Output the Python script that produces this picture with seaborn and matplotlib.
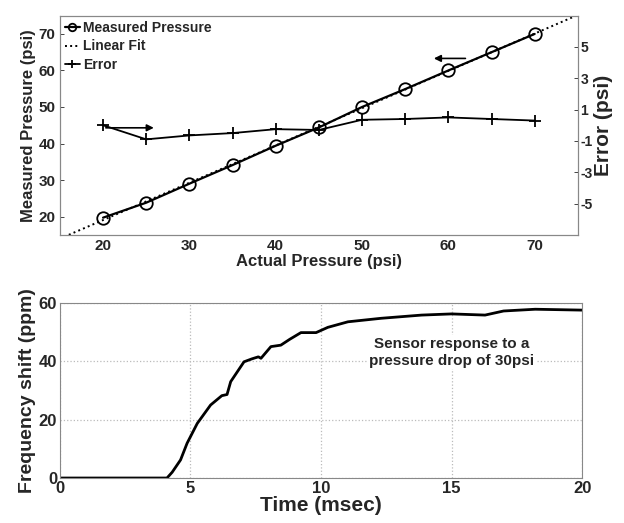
import numpy as np
import pandas as pd
import matplotlib
matplotlib.use("Agg")
import matplotlib.pyplot as plt
import seaborn as sns

# top panel: pressure sensor calibration
actual_psi = [20, 25, 30, 35, 40, 45, 50, 55, 60, 65, 70]
measured_psi = [19.7, 23.8, 29.0, 34.1, 39.4, 44.4, 50.0, 54.9, 60.0, 65.0, 70.0]
error_psi = [0.0, -0.9, -0.65, -0.5, -0.25, -0.3, 0.35, 0.4, 0.5, 0.4, 0.3]

# bottom panel: step response
time_ms = [0, 1, 2, 3, 4.1, 4.3, 4.62, 4.87, 5.26, 5.77, 6.2, 6.4, 6.54, 7.05,
           7.35, 7.6, 7.7, 8.08, 8.46, 8.8, 9.23, 9.81, 10.26, 11.03, 12.3,
           13.85, 15.0, 16.28, 16.99, 18.2, 20]
shift_ppm = [0, 0, 0, 0, 0, 2, 6.2, 11.9, 18.7, 25, 28.2, 28.6, 33, 39.8,
             40.8, 41.5, 41.0, 45, 45.5, 47.5, 49.8, 49.8, 51.6, 53.5, 54.7,
             55.8, 56.2, 55.8, 57.2, 57.8, 57.5]

sns.set_theme(style="white")
plt.rcParams['font.family'] = ['Liberation Sans Narrow', 'Liberation Sans', 'DejaVu Sans']
plt.rcParams['font.weight'] = 'bold'
plt.rcParams['axes.labelweight'] = 'bold'
plt.rcParams['axes.unicode_minus'] = False

cal = pd.DataFrame({'actual': actual_psi, 'measured': measured_psi, 'error': error_psi})
resp = pd.DataFrame({'time': time_ms, 'shift': shift_ppm})

fig = plt.figure(figsize=(6.24, 5.23), dpi=100)
ax1 = fig.add_axes([0.096, 0.551, 0.830, 0.419])
ax2 = ax1.twinx()

# linear fit of measured vs actual
m, b = np.polyfit(cal['actual'], cal['measured'], 1)

sns.lineplot(data=cal, x='actual', y='measured', ax=ax1, color='black', lw=1.6,
             marker='o', markersize=9, markerfacecolor='none', markeredgecolor='black',
             markeredgewidth=1.3, label='Measured Pressure', legend=False)
ax1.axline((0, b), slope=m, color='black', ls=':', lw=1.4, label='Linear Fit')
sns.lineplot(data=cal, x='actual', y='error', ax=ax2, color='black', lw=1.3,
             marker='+', markersize=9, markeredgewidth=1.3, markeredgecolor='black',
             label='Error', legend=False)

ax1.set_xlim(15, 75)
ax1.set_ylim(15, 75)
ax2.set_ylim(-7, 7)
ax1.set_xticks([20, 30, 40, 50, 60, 70])
ax1.set_yticks([20, 30, 40, 50, 60, 70])
ax2.set_yticks([-5, -3, -1, 1, 3, 5])

ax1.set_xlabel('Actual Pressure (psi)', fontsize=12, labelpad=1)
ax1.set_ylabel('Measured Pressure (psi)', fontsize=12, labelpad=2)
ax2.set_ylabel('Error (psi)', fontsize=15, labelpad=1)

for a in (ax1, ax2):
    a.tick_params(direction='in', length=3, width=0.6, labelsize=11, pad=3)
    for sp in a.spines.values():
        sp.set_color('#888888')
        sp.set_linewidth(0.8)
ax2.tick_params(labelsize=10, pad=2)
for t in ax1.get_xticklabels() + ax1.get_yticklabels() + ax2.get_yticklabels():
    t.set_fontweight('bold')

h1, l1 = ax1.get_legend_handles_labels()
h2, l2 = ax2.get_legend_handles_labels()
leg = ax1.legend(h1 + h2, l1 + l2, loc='upper left', frameon=False, fontsize=10,
                 handlelength=1.1, handletextpad=0.2, labelspacing=0.35,
                 borderaxespad=0.1, borderpad=0.25, markerscale=0.6)
for t in leg.get_texts():
    t.set_fontweight('bold')

# arrows pointing to the matching axis
ax1.annotate('', xy=(26.2, 44.3), xytext=(20, 44.3),
             arrowprops=dict(arrowstyle='-|>', color='black', lw=1.2, mutation_scale=10))
ax1.annotate('', xy=(58.0, 63.3), xytext=(62.3, 63.3),
             arrowprops=dict(arrowstyle='-|>', color='black', lw=1.2, mutation_scale=10))

# bottom panel
ax3 = fig.add_axes([0.096, 0.086, 0.837, 0.335])
sns.lineplot(data=resp, x='time', y='shift', ax=ax3, color='black', lw=2)
ax3.set_xlim(0, 20)
ax3.set_ylim(0, 60)
ax3.set_xticks([0, 5, 10, 15, 20])
ax3.set_yticks([0, 20, 40, 60])
ax3.grid(True, color='#bbbbbb', ls=':', lw=0.9)
ax3.set_axisbelow(True)
ax3.set_xlabel('Time (msec)', fontsize=15, labelpad=0)
ax3.set_ylabel('Frequency shift (ppm)', fontsize=14, labelpad=2)
ax3.tick_params(direction='in', length=3, width=0.6, labelsize=12, pad=2)
for t in ax3.get_xticklabels() + ax3.get_yticklabels():
    t.set_fontweight('bold')
for sp in ax3.spines.values():
    sp.set_color('#888888')
    sp.set_linewidth(0.8)
ax3.text(15.0, 43, 'Sensor response to a\npressure drop of 30psi', ha='center', va='center',
         fontsize=11, fontweight='bold', linespacing=1.3,
         bbox=dict(facecolor='white', edgecolor='none', pad=1))

fig.savefig('out.png', dpi=100)
